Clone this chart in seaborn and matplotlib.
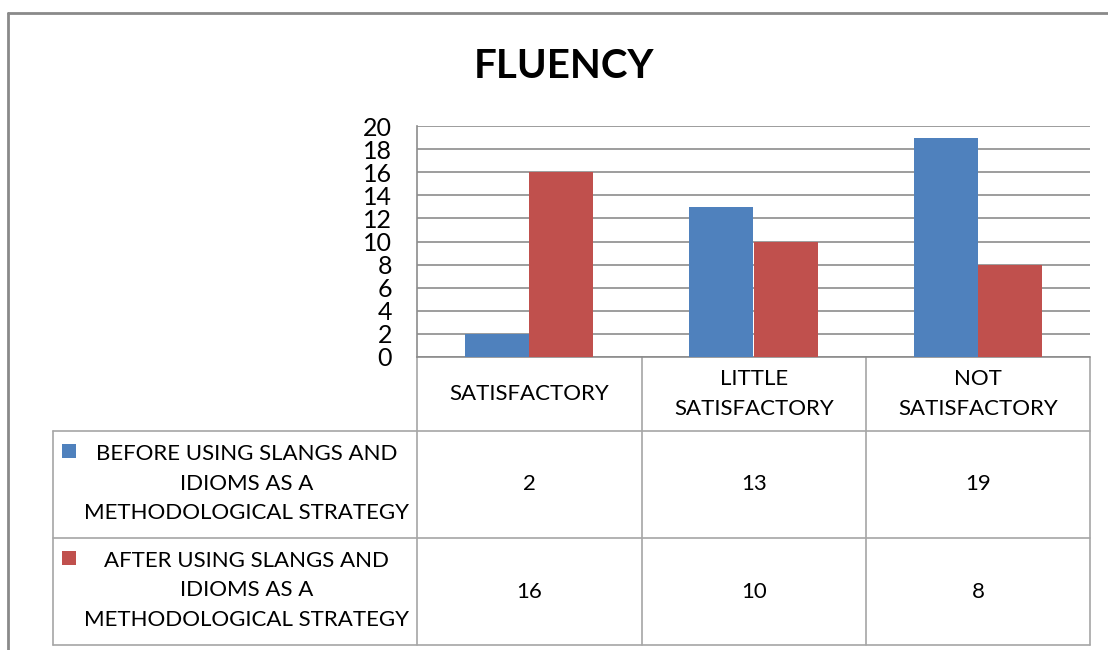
import matplotlib
matplotlib.use("Agg")
import matplotlib.pyplot as plt
import seaborn as sns
import pandas as pd

# Chart data
categories = ["SATISFACTORY", "LITTLE\nSATISFACTORY", "NOT\nSATISFACTORY"]
series_names = [
    "BEFORE USING SLANGS AND\nIDIOMS AS A\nMETHODOLOGICAL STRATEGY",
    "AFTER USING SLANGS AND\nIDIOMS AS A\nMETHODOLOGICAL STRATEGY",
]
before_values = [2, 13, 19]
after_values = [16, 10, 8]
y_ticks = [0, 2, 4, 6, 8, 10, 12, 14, 16, 18, 20]
title = "FLUENCY"

colors = ["#4F81BD", "#C0504D"]
grid_color = "#8C8C8C"
table_color = "#A6A6A6"

sns.set_theme(style="white")
plt.rcParams["font.family"] = ["Lato", "DejaVu Sans"]

W, H = 1108, 650
fig = plt.figure(figsize=(W / 100, H / 100), dpi=100)


def fx(px):
    return px / W


def fy(py):
    return 1 - py / H


# Plot area in pixel coordinates
pl, pr, pt, pb = 417, 1090, 126, 357
ax = fig.add_axes([fx(pl), fy(pb), fx(pr - pl), (pb - pt) / H])

df = pd.DataFrame({
    "category": categories * 2,
    "series": [series_names[0]] * 3 + [series_names[1]] * 3,
    "value": before_values + after_values,
})
sns.barplot(data=df, x="category", y="value", hue="series", order=categories,
            hue_order=series_names, palette=colors, width=0.571,
            linewidth=0, saturation=1, ax=ax, legend=False, zorder=3)

ax.set_xlim(-0.5, len(categories) - 0.5)
ax.set_ylim(0, 20)
ax.set_yticks(y_ticks)
ax.set_yticklabels([str(t) for t in y_ticks], fontsize=18, color="black")
ax.tick_params(axis="y", length=0, pad=18)
ax.set_xticks([])
ax.set_xlabel("")
ax.set_ylabel("")
for t in y_ticks:
    ax.axhline(t, color=grid_color, lw=1.2, zorder=1)
for side in ["top", "right", "bottom"]:
    ax.spines[side].set_visible(False)
ax.spines["left"].set_color(grid_color)
ax.spines["left"].set_linewidth(1.2)
ax.patch.set_alpha(0)

# Overlay in pixel coordinates for the frame, title and data table
ov = fig.add_axes([0, 0, 1, 1], zorder=-1)
ov.set_xlim(0, W)
ov.set_ylim(H, 0)
ov.axis("off")

# Outer chart frame
ov.plot([8, 8], [13, H], color="#8A8A8A", lw=2)
ov.plot([8, W], [13, 13], color="#8A8A8A", lw=2)

ov.text(564, 66, title, ha="center", va="center", fontsize=29,
        fontweight="bold", color="black")

# Data table grid
col_x = [417, 642, 866, 1090]
row_y = [357, 431, 538, 645]
lab_l = 53
lw_t = 1.2
for x in col_x:
    ov.plot([x, x], [row_y[0], row_y[-1]], color=table_color, lw=lw_t)
ov.plot([lab_l, lab_l], [row_y[1], row_y[-1]], color=table_color, lw=lw_t)
ov.plot([col_x[0], col_x[-1]], [row_y[0], row_y[0]], color=grid_color, lw=lw_t)
for y in row_y[1:]:
    ov.plot([lab_l, col_x[-1]], [y, y], color=table_color, lw=lw_t)

fs = 16
ls = 1.62
for i, cat in enumerate(categories):
    cx = (col_x[i] + col_x[i + 1]) / 2
    ov.text(cx, (row_y[0] + row_y[1]) / 2, cat, ha="center", va="center",
            fontsize=fs, linespacing=ls, color="black")

rows = [before_values, after_values]
for r, (name, vals) in enumerate(zip(series_names, rows)):
    cy = (row_y[r + 1] + row_y[r + 2]) / 2
    ov.text(247, cy - 1, name, ha="center", va="center", fontsize=fs,
            linespacing=ls, color="black")
    ov.add_patch(plt.Rectangle((62, row_y[r + 1] + 13), 14, 14,
                               color=colors[r], lw=0))
    for i, v in enumerate(vals):
        cx = (col_x[i] + col_x[i + 1]) / 2
        ov.text(cx, cy, str(v), ha="center", va="center", fontsize=fs,
                color="black")

fig.savefig("out.png", dpi=100)
